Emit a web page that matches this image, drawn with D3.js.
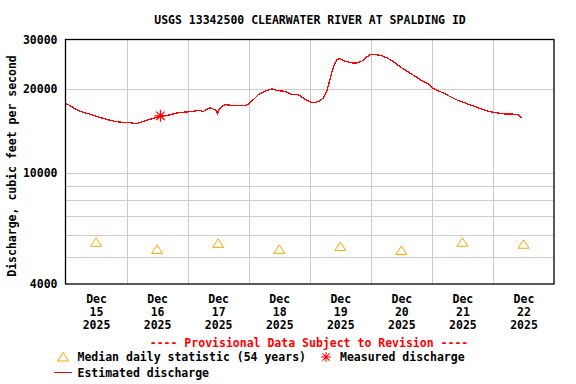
<!DOCTYPE html>
<html>
<head>
<meta charset="utf-8">
<script src="https://cdn.jsdelivr.net/npm/d3@7"></script>
<style>
body { margin: 0; background: #fff; }
svg text { font-family: "DejaVu Sans Mono", monospace; font-weight: bold; font-size: 11.5px; }
</style>
</head>
<body>
<svg id="chart" width="576" height="384"></svg>
<script>
// discharge, hours after Dec 15 2025 00:00
let flowHours = [0, 1.9, 3.9, 5.8, 7.8, 10.4, 13.1, 15.6, 18.3, 20.9, 23.5, 26.1, 28.1, 30.1, 32.7,
    35.3, 37.3, 40.6, 43.8, 47.1, 49.6, 52.2, 54.2, 56.8, 59.4, 59.7, 60.4, 61.4, 62.7, 65.3, 67.9,
    70.6, 72.1, 73.8, 75.8, 78.4, 81.1, 83.6, 86.3, 88.9, 91.5, 93.5, 95.0, 96.8, 98.1, 100.0, 101.3,
    102.7, 103.6, 104.6, 105.7, 106.6, 107.9, 109.9, 112.5, 114.5, 116.4, 117.7, 119.7, 121.7, 124.3,
    126.9, 129.5, 132.2, 134.7, 137.4, 140.0, 142.6, 143.9, 146.5, 149.2, 151.8, 154.4, 157.0, 159.7,
    162.3, 164.9, 167.5, 170.1, 172.8, 175.4, 178.0, 179.3];
let flowCfs = [17730, 17390, 16920, 16590, 16370, 16140, 15840, 15580, 15360, 15200, 15150, 15080, 14990, 15240, 15490,
    15750, 15920, 16100, 16370, 16510, 16550, 16730, 16590, 17110, 16690, 16280, 16900, 17290, 17540, 17430, 17390,
    17390, 17680, 18270, 19040, 19570, 19960, 19680, 19570, 19040, 19040, 18530, 18120, 17870, 17830, 18120, 18530,
    19570, 20980, 22770, 24390, 25430, 25640, 25080, 24740, 24740, 25080, 25640, 26500, 26500, 26280,
    25640, 24740, 23740, 22960, 22150, 21380, 20800, 20220, 19680, 19150, 18620, 18120, 17780, 17430,
    17070, 16730, 16510, 16370, 16240, 16240, 16140, 15710];

// measured discharge
let measuredHours = [37.3];
let measuredCfs = [16000];

// median daily statistic (54 years), plotted at noon
let medianDays = [15, 16, 17, 18, 19, 20, 21, 22];
let medianCfs = [5640, 5320, 5590, 5320, 5450, 5270, 5640, 5550];

let yLabels = [4000, 10000, 20000, 30000];
let yGrid = [5000, 6000, 7000, 8000, 9000, 10000, 20000];

let title = "USGS 13342500 CLEARWATER RIVER AT SPALDING ID";
let yTitle = "Discharge, cubic feet per second";

let start = new Date(2025, 11, 15);
let hourDate = h => new Date(start.getTime() + h * 3600000);
let dayNoon = d => new Date(2025, 11, d, 12);

let svg = d3.select("#chart");
let plotL = 65.5, plotR = 554, plotT = 39.5, plotB = 284;

let x = d3.scaleTime()
    .domain([start, new Date(2025, 11, 23)])
    .range([plotL, plotR]);
let y = d3.scaleLog()
    .domain([4000, 30000])
    .range([plotB, plotT]);

// grid
svg.append("g").selectAll("line")
    .data(yGrid)
    .enter().append("line")
    .attr("x1", plotL).attr("x2", plotR)
    .attr("y1", d => Math.round(y(d)) + 0.5).attr("y2", d => Math.round(y(d)) + 0.5)
    .attr("stroke", "#cccccc");
svg.append("g").selectAll("line")
    .data(d3.range(16, 23))
    .enter().append("line")
    .attr("x1", d => Math.round(x(new Date(2025, 11, d))) + 0.5)
    .attr("x2", d => Math.round(x(new Date(2025, 11, d))) + 0.5)
    .attr("y1", plotT).attr("y2", plotB)
    .attr("stroke", "#cccccc");

// y axis labels
let axisY = d3.axisLeft(y).tickValues(yLabels).tickFormat(d3.format("d")).tickSize(0).tickPadding(8);
let gy = svg.append("g").attr("transform", `translate(${plotL},0)`).call(axisY);
gy.select(".domain").remove();
gy.attr("font-family", null).attr("font-size", null);
gy.selectAll("text").attr("fill", "#000");

// x axis labels: Dec / day / year
let axisX = d3.axisBottom(x).tickValues(medianDays.map(dayNoon)).tickSize(0);
let gx = svg.append("g").attr("transform", `translate(0,${plotB})`).call(axisX);
gx.select(".domain").remove();
gx.attr("font-family", null).attr("font-size", null);
gx.selectAll("text").each(function(d) {
    let t = d3.select(this).text(null).attr("y", 0).attr("dy", null)
        .attr("fill", "#000");
    t.append("tspan").attr("x", 0).attr("y", 18.5).text("Dec");
    t.append("tspan").attr("x", 0).attr("y", 31.5).text(d.getDate());
    t.append("tspan").attr("x", 0).attr("y", 44.5).text(d.getFullYear());
});

// estimated discharge line
let flow = flowHours.map((h, i) => ({t: hourDate(h), v: flowCfs[i]}));
svg.append("path")
    .datum(flow)
    .attr("d", d3.line().x(d => x(d.t)).y(d => y(d.v)))
    .attr("fill", "none")
    .attr("stroke", "#ff0000")
    .attr("stroke-width", 1.3)
    .attr("shape-rendering", "crispEdges");

// median triangles
let triangle = "M0,-4.5L5.5,4L-5.5,4Z";
svg.append("g").selectAll("path")
    .data(medianDays)
    .enter().append("path")
    .attr("d", triangle)
    .attr("transform", (d, i) => `translate(${x(dayNoon(d))},${y(medianCfs[i])})`)
    .attr("fill", "none")
    .attr("stroke", "#ffa500");

// asterisk
let star = "M-6,0L6,0M0,-6L0,6M-4.2,-4.2L4.2,4.2M-4.2,4.2L4.2,-4.2";
svg.append("g").selectAll("path")
    .data(measuredHours)
    .enter().append("path")
    .attr("d", star)
    .attr("transform", (d, i) => `translate(${x(hourDate(d))},${y(measuredCfs[i])})`)
    .attr("stroke", "#ff0000")
    .attr("stroke-width", 1.2);

// plot frame
svg.append("rect")
    .attr("x", plotL).attr("y", plotT)
    .attr("width", plotR - plotL).attr("height", plotB - plotT)
    .attr("fill", "none").attr("stroke", "#000").attr("stroke-width", 1.3);

// titles
svg.append("text").attr("x", 310).attr("y", 24).attr("text-anchor", "middle").text(title);
svg.append("text").attr("transform", "translate(16,166) rotate(-90)")
    .attr("text-anchor", "middle").text(yTitle);
svg.append("text").attr("x", 309).attr("y", 347).attr("text-anchor", "middle")
    .attr("fill", "#ff0000").text("---- Provisional Data Subject to Revision ----");

// legend
svg.append("path").attr("d", triangle).attr("transform", "translate(63,357)")
    .attr("fill", "none").attr("stroke", "#ffa500");
svg.append("text").attr("x", 77.5).attr("y", 361).text("Median daily statistic (54 years)");
svg.append("path").attr("d", star).attr("transform", "translate(326,357) scale(0.85)")
    .attr("stroke", "#ff0000").attr("stroke-width", 1.2);
svg.append("text").attr("x", 340).attr("y", 361).text("Measured discharge");
svg.append("line").attr("x1", 54).attr("x2", 72).attr("y1", 372.5).attr("y2", 372.5)
    .attr("stroke", "#ff0000");
svg.append("text").attr("x", 77.5).attr("y", 377).text("Estimated discharge");
</script>
</body>
</html>
